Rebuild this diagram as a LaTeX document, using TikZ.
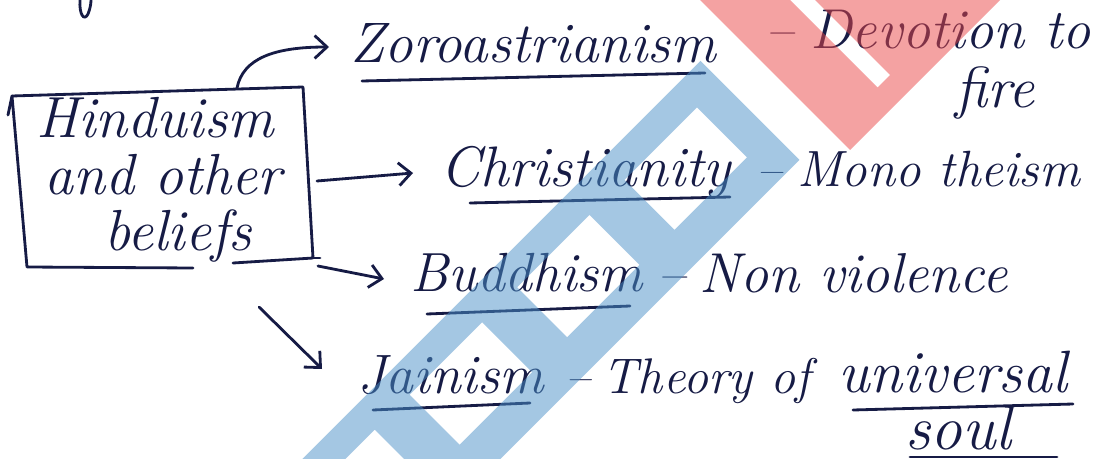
\documentclass[tikz,border=0pt]{standalone}
\usetikzlibrary{arrows.meta}
\definecolor{ink}{HTML}{161B45}
\definecolor{wmblue}{HTML}{4B91C9}
\definecolor{wmred}{HTML}{EB4747}
\begin{document}
\begin{tikzpicture}[x=0.02cm,y=-0.02cm,
  inkline/.style={draw=ink, line width=1.6pt, line cap=round, line join=round},
  conn/.style={inkline, -{Straight Barb[length=7pt,width=13pt,line width=1.6pt]}},
  hw/.style={text=ink, font=\fontsize{#1}{32}\selectfont\itshape, inner sep=0pt, anchor=base west},
  hw/.default=30,
]
\useasboundingbox (0,0) rectangle (1097,459);
\fill[white] (0,0) rectangle (1097,459);

% fragment of text above the picture
\draw[inkline] (80,0) .. controls (79,14) and (84,22) .. (88,14) .. controls (90,9) and (91,4) .. (91,0);

% central box
\node[hw=33, anchor=center, align=center] (hind) at (163,180)
  {Hinduism\hspace*{0.32cm}\\and other\\\hspace*{0.6cm}beliefs};
\draw[inkline] (8,115) -- (12,96) -- (27,267) -- (193,268);
\draw[inkline] (12,96) -- (303,87) -- (313,258) -- (233,263);
\draw[inkline] (313,258) -- (320,258);

% labels
\node[hw=32.5] (zoro) at (350,63) {Zoroastrianism};
\node[hw=32] (devo) at (765,49) {--\hspace{0.3em}Devotion to};
\node[hw=33] (fire) at (955,108) {fire};
\node[hw=32.5] (chri) at (440,186) {Christianity};
\node[hw=29] (mono) at (756,186) {--\hspace{0.3em}Mono theism};
\node[hw=31.4] (budd) at (410,291) {Buddhism};
\node[hw=32] (nonv) at (657,292) {--\hspace{0.25em}Non violence};
\node[hw=31.6] (jain) at (357,393) {Jainism};
\node[hw=28.5] (theo) at (565,393) {--\hspace{0.25em}Theory of};
\node[hw=34] (univ) at (838,392) {universal};
\node[hw=36] (soul) at (905,449) {soul};

% underlines
\draw[inkline] (362,81) -- (705,73);
\draw[inkline] (470,203) -- (730,197);
\draw[inkline] (427,314) -- (630,306);
\draw[inkline] (373,410) -- (530,403);
\draw[inkline] (853,410) -- (1073,404);
\draw[inkline] (910,457) -- (1057,457);

% connectors
\coordinate (s1) at (237,88);  \coordinate (t1) at (329,47);
\coordinate (s2) at (317,181); \coordinate (t2) at (413,173);
\coordinate (s3) at (318,266); \coordinate (t3) at (384,279);
\coordinate (s4) at (259,307); \coordinate (t4) at (322,369);
\draw[conn] (s1) .. controls (243,58) and (275,47) .. (t1);
\draw[conn] (s2) -- (t2);
\draw[conn] (s3) -- (t3);
\draw[conn] (s4) -- (t4);

% watermark
\begin{scope}
\clip (0,0) rectangle (1097,459);
\fill[wmred, fill opacity=0.5, even odd rule]
  (700,0) -- (1000,0) -- (850,150) -- cycle
  (790,0) -- (815,0) -- (890,75) -- (877.5,87.5) -- cycle;
\begin{scope}[x={(0.01cm,-0.01cm)}, y={(0.01cm,0.01cm)}]
\fill[wmblue, fill opacity=0.5]
  (762,-240) -- (805,-240) -- (805,640) -- (762,640) -- cycle
  (905,-240) -- (960,-240) -- (960,640) -- (905,640) -- cycle
  (805,590) -- (905,590) -- (905,640) -- (805,640) -- cycle
  (805,375) -- (905,375) -- (905,445) -- (805,445) -- cycle
  (805,160) -- (905,160) -- (905,230) -- (805,230) -- cycle
  (805,-55) -- (905,-55) -- (905,15) -- (805,15) -- cycle;
\end{scope}
\end{scope}
\end{tikzpicture}
\end{document}
